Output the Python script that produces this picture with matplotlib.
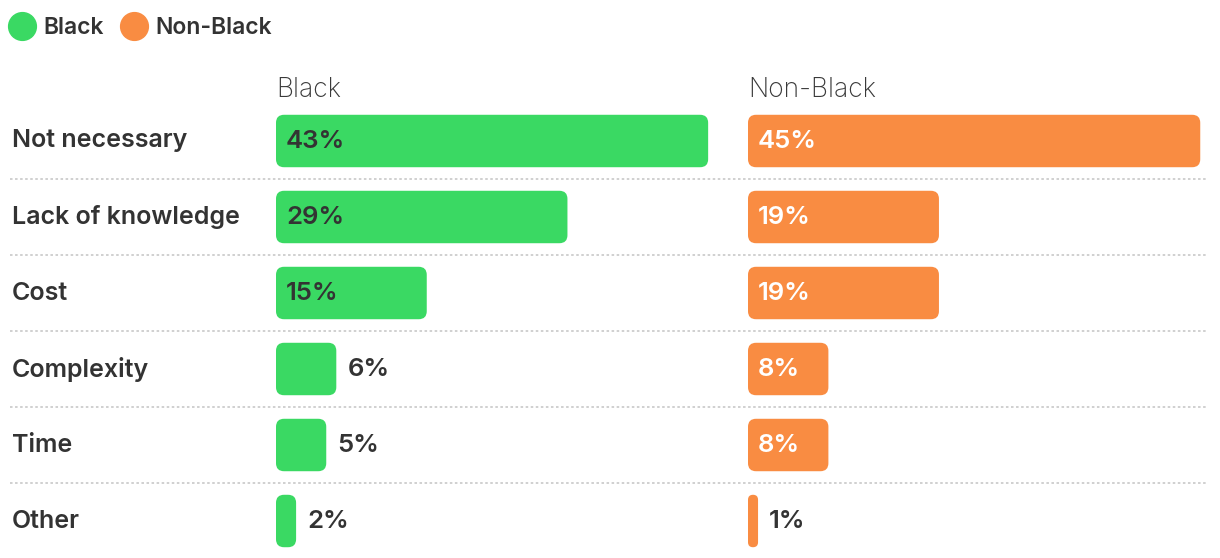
import matplotlib

matplotlib.use("Agg")

import matplotlib.pyplot as plt
from matplotlib.lines import Line2D
from matplotlib.patches import FancyBboxPatch

CATEGORIES = ["Not necessary", "Lack of knowledge", "Cost", "Complexity", "Time", "Other"]
GROUPS = ["Black", "Non-Black"]
BLACK = [43, 29, 15, 6, 5, 2]
NON_BLACK = [45, 19, 19, 8, 8, 1]

GREEN = "#3ad963"
ORANGE = "#f98c42"
TEXT = "#333333"
FONT = "Inter"

W, H = 1220, 558
ROW_PX = 76
TOP_PX = 103
UNIT_PX = 10.05  # pixels per percentage point
PANEL_W = 460
BAR_H = 0.69


def px_rect(x, y_top, w, h):
    return [x / W, 1 - (y_top + h) / H, w / W, h / H]


fig = plt.figure(figsize=(W / 100, H / 100), dpi=100)
n = len(CATEGORIES)

# background axes: separators and category labels
base = fig.add_axes(px_rect(0, TOP_PX, W, ROW_PX * n))
base.set_xlim(0, W)
base.set_ylim(n - 0.5, -0.5)
base.axis("off")
for i in range(n - 1):
    base.plot([10, 1208], [i + 0.5, i + 0.5], color="#d0d0d0", lw=1.4,
              ls=(0, (1.3, 1.3)), solid_capstyle="butt")
for i, cat in enumerate(CATEGORIES):
    base.text(12, i, cat, ha="left", va="center", fontsize=18,
              fontweight="semibold", color=TEXT, family=FONT)

panels = [
    (276, BLACK, GREEN, TEXT, GROUPS[0]),
    (748, NON_BLACK, ORANGE, "white", GROUPS[1]),
]
for left_px, vals, color, inside_color, title in panels:
    ax = fig.add_axes(px_rect(left_px, TOP_PX, PANEL_W, ROW_PX * n))
    ax.set_xlim(0, PANEL_W / UNIT_PX)
    ax.set_ylim(n - 0.5, -0.5)
    ax.axis("off")
    aspect = UNIT_PX / ROW_PX
    for i, v in enumerate(vals):
        r = min(0.8, v / 2)
        ax.add_patch(FancyBboxPatch(
            (0, i - BAR_H / 2), v, BAR_H,
            boxstyle=f"round,pad=0,rounding_size={r}",
            mutation_aspect=aspect, fc=color, ec="none"))
        if v >= 7:
            ax.text(1.0, i + 0.01, f"{v}%", ha="left", va="center", fontsize=18.5,
                    fontweight="semibold", color=inside_color, family=FONT)
        else:
            ax.text(v + 1.1, i + 0.01, f"{v}%", ha="left", va="center", fontsize=18.5,
                    fontweight="semibold", color=TEXT, family=FONT)
    ax.text(0.05, -0.5 - 13 / ROW_PX, title, ha="left", va="center",
            fontsize=19, fontweight="light", color="#3a3a3a", family=FONT,
            clip_on=False)

handles = [
    Line2D([], [], marker="o", ls="", markersize=20, color=GREEN),
    Line2D([], [], marker="o", ls="", markersize=20, color=ORANGE),
]
fig.legend(handles, GROUPS, loc="center left", bbox_to_anchor=(6 / W, 1 - 28 / H),
           ncol=2, frameon=False, handletextpad=0.25, columnspacing=0.6,
           borderpad=0, borderaxespad=0, handlelength=1.4,
           prop={"family": FONT, "size": 16.5, "weight": "semibold"}, labelcolor=TEXT)

fig.savefig("out.png", dpi=100)
